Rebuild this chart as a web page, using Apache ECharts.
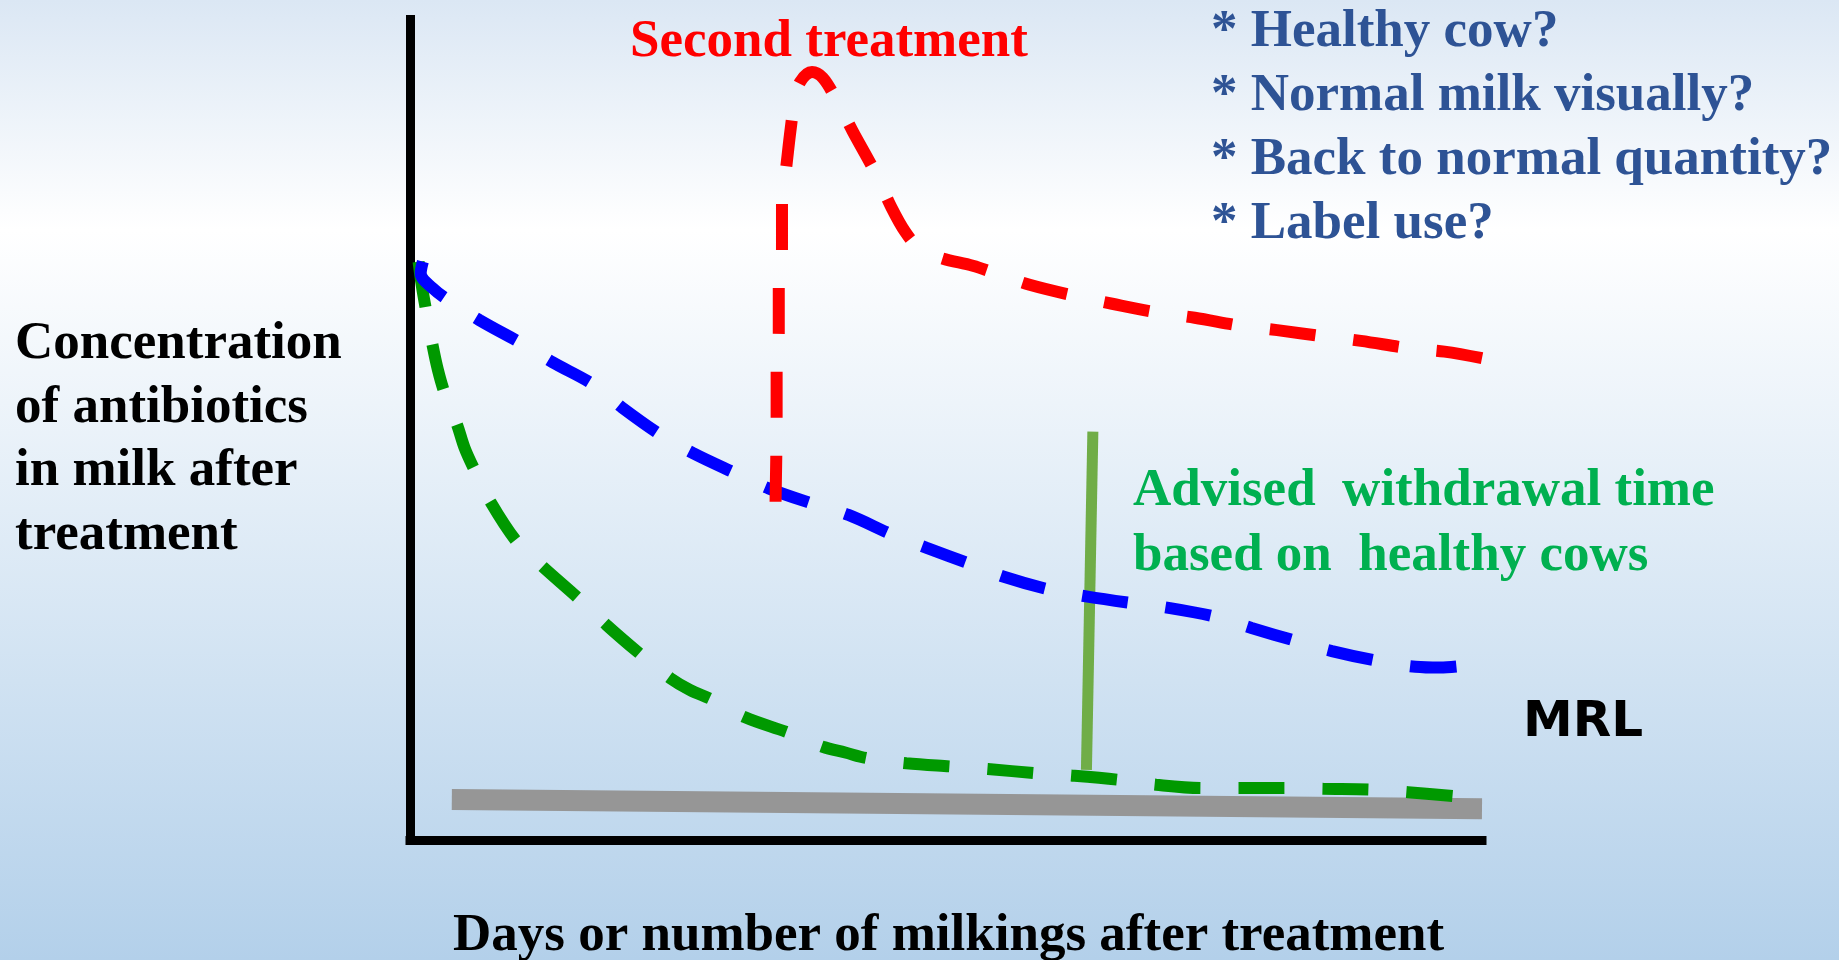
<!DOCTYPE html>
<html>
<head>
<meta charset="utf-8">
<title>Antibiotics in milk after treatment</title>
<script src="https://cdn.jsdelivr.net/npm/echarts@6/dist/echarts.min.js"></script>
<style>
  html, body { margin: 0; padding: 0; }
  #chart { width: 1839px; height: 960px; }
</style>
</head>
<body>
<div id="chart"></div>
<script>
// x: days / milkings after treatment (0-100), y: concentration (0-100)
var sickCow = [
  [1.2, 70.1], [1.0, 68.7], [2.1, 66.9], [3.5, 65.5], [6.5, 63.0], [10.4, 60.2],
  [13.3, 57.9], [17.1, 55.2], [19.8, 52.4], [23.4, 49.1], [26.4, 46.9], [30.3, 44.5],
  [33.5, 42.6], [37.7, 40.7], [40.9, 39.4], [45.0, 37.0], [48.2, 35.4], [52.2, 33.5],
  [55.4, 31.9], [59.8, 30.3], [63.2, 29.5], [67.4, 28.7], [70.9, 28.1], [75.3, 27.0],
  [78.5, 25.7], [82.7, 24.1], [86.0, 22.9], [90.3, 21.7], [93.8, 21.0], [96.1, 20.9],
  [98.1, 21.1]
];
var healthyCow = [
  [0.8, 70.1], [1.1, 67.2], [1.5, 64.2], [2.1, 60.0], [2.6, 57.0], [3.2, 54.3],
  [4.4, 50.3], [5.1, 47.5], [6.0, 44.9], [7.5, 41.0], [10.0, 36.1], [12.4, 33.1],
  [15.7, 29.3], [18.3, 26.1], [21.6, 22.4], [24.3, 19.6], [26.1, 18.2], [28.2, 17.0],
  [31.2, 14.9], [35.3, 13.0], [38.5, 11.3], [40.6, 10.6], [42.7, 9.9], [46.3, 9.3],
  [50.6, 8.9], [53.9, 8.6], [58.4, 8.1], [61.8, 7.8], [66.1, 7.3], [69.6, 6.7],
  [74.0, 6.3], [77.3, 6.3], [81.8, 6.3], [85.2, 6.2], [89.7, 6.1], [93.1, 5.8],
  [97.5, 5.3]
];
var secondTreatment = [
  [34.1, 41.0], [34.2, 51.3], [34.2, 57.0], [34.4, 61.5], [34.4, 67.2], [34.7, 71.5],
  [34.7, 77.3], [35.1, 81.6], [35.5, 86.1], [35.9, 89.7], [36.4, 91.9], [37.5, 93.1],
  [38.5, 92.4], [39.7, 89.9], [41.3, 85.9], [43.4, 80.9], [44.9, 76.7], [46.2, 73.7],
  [47.4, 71.9], [49.4, 70.6], [52.5, 69.6], [54.6, 68.7], [57.8, 67.3], [62.2, 65.9],
  [65.5, 65.0], [69.9, 63.9], [73.2, 63.3], [77.6, 62.3], [80.9, 61.8], [85.5, 61.0],
  [88.7, 60.5], [93.2, 59.6], [96.5, 59.2], [100, 58.4]
];
var withdrawalLine = [[63.7, 49.5], [63.1, 8.5]];
var mrlLine = [[3.9, 4.9], [100, 3.8]];

var blueText = ['* Healthy cow?', '* Normal milk visually?', '* Back to normal quantity?', '* Label use?'];
var yTitle = ['Concentration', 'of antibiotics', 'in milk after', 'treatment'];
var greenText = ['Advised  withdrawal time', 'based on  healthy cows'];

var serif = '"Liberation Serif", "Times New Roman", serif';

var chart = echarts.init(document.getElementById('chart'));

function dashed(name, data, color, z) {
  return {
    name: name,
    type: 'line',
    data: data,
    smooth: 0.35,
    showSymbol: false,
    clip: false,
    z: z,
    lineStyle: { color: color, width: 12, type: [46, 38], cap: 'butt' }
  };
}

var option = {
  backgroundColor: new echarts.graphic.LinearGradient(0, 0, 0, 1, [
    { offset: 0, color: '#dbe7f4' },
    { offset: 0.24, color: '#ffffff' },
    { offset: 1, color: '#b3d0ea' }
  ]),
  animation: false,
  grid: { left: 410, right: 357, top: 15, bottom: 120 },
  xAxis: {
    type: 'value', min: 0, max: 100,
    axisLine: { show: true, lineStyle: { color: '#000', width: 9, cap: 'square' } },
    axisTick: { show: false }, axisLabel: { show: false }, splitLine: { show: false }
  },
  yAxis: {
    type: 'value', min: 0, max: 100,
    axisLine: { show: true, lineStyle: { color: '#000', width: 9, cap: 'butt' } },
    axisTick: { show: false }, axisLabel: { show: false }, splitLine: { show: false }
  },
  series: [
    {
      name: 'MRL', type: 'line', data: mrlLine, showSymbol: false, clip: false, z: 2,
      lineStyle: { color: '#969696', width: 21, cap: 'butt' }
    },
    {
      name: 'Withdrawal', type: 'line', data: withdrawalLine, showSymbol: false, clip: false, z: 3,
      lineStyle: { color: '#70ad47', width: 11, cap: 'butt' }
    },
    dashed('Healthy cow', healthyCow, '#009900', 4),
    dashed('Sick cow', sickCow, '#0000ff', 5),
    dashed('Second treatment', secondTreatment, '#ff0000', 6)
  ],
  graphic: [
    {
      type: 'text', x: 630, y: 42, z: 100,
      style: { text: 'Second treatment', fill: '#ff0000', font: 'bold 53px ' + serif, align: 'left', verticalAlign: 'middle' }
    },
    {
      type: 'text', x: 1211, y: 128, z: 100,
      style: { text: blueText.join('\n'), fill: '#2e5395', font: 'bold 53px ' + serif, lineHeight: 64, align: 'left', verticalAlign: 'middle' }
    },
    {
      type: 'text', x: 15, y: 440, z: 100,
      style: { text: yTitle.join('\n'), fill: '#000', font: 'bold 53px ' + serif, lineHeight: 63.5, align: 'left', verticalAlign: 'middle' }
    },
    {
      type: 'text', x: 1133, y: 524, z: 100,
      style: { text: greenText.join('\n'), fill: '#00b050', font: 'bold 53px ' + serif, lineHeight: 65, align: 'left', verticalAlign: 'middle' }
    },
    {
      type: 'text', x: 453, y: 936, z: 100,
      style: { text: 'Days or number of milkings after treatment', fill: '#000', font: 'bold 53px ' + serif, align: 'left', verticalAlign: 'middle' }
    },
    {
      type: 'text', x: 1523, y: 723, z: 100,
      style: { text: 'MRL', fill: '#000', font: 'bold 50px "DejaVu Sans", sans-serif', align: 'left', verticalAlign: 'middle' }
    }
  ]
};

chart.setOption(option);
</script>
</body>
</html>
